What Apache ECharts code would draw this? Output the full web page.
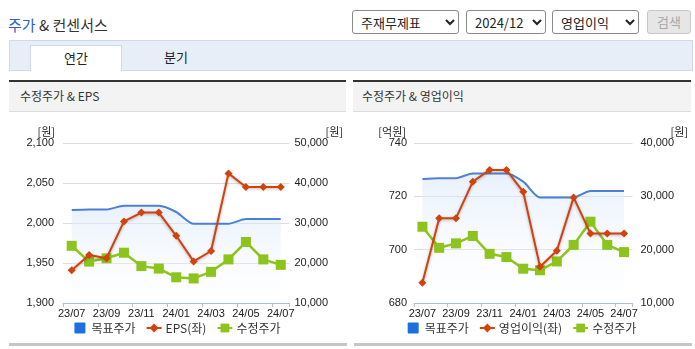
<!DOCTYPE html>
<html><head><meta charset="utf-8">
<script src="https://cdn.jsdelivr.net/npm/echarts@6/dist/echarts.min.js"></script>
<style>
body{margin:0;width:695px;height:349px;position:relative;overflow:hidden;background:#fff;font-family:'Noto Sans CJK KR',sans-serif;color:#333}
.abs{position:absolute}
.sel{position:absolute;top:10px;height:24px;font:13px 'Noto Sans CJK KR';color:#222;border:1px solid #8a8a8a;border-radius:3px;background:#fff;box-sizing:border-box;padding:0 4px}
.btn{position:absolute;top:10px;left:647px;width:44px;height:24px;box-sizing:border-box;border:1px solid #c8c8c8;border-radius:3px;background:#e6e6e6;color:#a8a8a8;font:13px 'Noto Sans CJK KR';text-align:center;line-height:22px}
.panelTop{position:absolute;top:80px;height:2px;background:#333}
.panelHead{position:absolute;top:82px;height:29px;background:#f3f3f3;border-bottom:1px solid #dcdcdc;font:12px 'Noto Sans CJK KR';color:#333;line-height:28px;box-sizing:content-box}
.panelBot{position:absolute;top:343px;height:3px;background:#c6c6c6}
</style></head>
<body>
<div class="abs" style="left:8px;top:14px;font-size:15px;line-height:22px;color:#333"><span style="color:#2b5fd0">주가</span> &amp; 컨센서스</div>
<select class="sel" style="left:352px;width:107px"><option>주재무제표</option></select>
<select class="sel" style="left:466px;width:80px"><option>2024/12</option></select>
<select class="sel" style="left:552px;width:87px"><option>영업이익</option></select>
<div class="btn">검색</div>
<div class="abs" style="left:9px;top:40px;width:682px;height:29px;background:#e8eef8;border:1px solid #cfd9e8"></div>
<div class="abs" style="left:30px;top:45px;width:90px;height:25px;background:#fff;border:1px solid #cfd9e8;border-bottom:none;text-align:center;font-size:13px;line-height:24px;color:#222">연간</div>
<div class="abs" style="left:156px;top:45px;width:40px;height:25px;text-align:center;font-size:13px;line-height:24px;color:#222">분기</div>

<div class="panelTop" style="left:9px;width:337px"></div>
<div class="panelHead" style="left:9px;width:326px;padding-left:11px">수정주가 &amp; EPS</div>
<div class="panelTop" style="left:353px;width:338px"></div>
<div class="panelHead" style="left:353px;width:329px;padding-left:9px">수정주가 &amp; 영업이익</div>
<div id="c1" class="abs" style="left:9px;top:112px;width:337px;height:230px"></div>
<div id="c2" class="abs" style="left:353px;top:112px;width:338px;height:230px"></div>
<div class="panelBot" style="left:9px;width:338px"></div>
<div class="panelBot" style="left:354px;width:338px"></div>

<script>
const categories = ['23/07','23/08','23/09','23/10','23/11','23/12','24/01','24/02','24/03','24/04','24/05','24/06','24/07'];
const targetPrice = [33250,33400,33400,34300,34300,34300,32750,29800,29800,29800,31000,31000,31000];
const adjPrice = [24300,20350,21180,22570,19220,18610,16430,16140,17790,20900,25250,20900,19540];
const eps = [1941,1960,1956,2002,2013,2013,1984,1952,1965,2062,2045,2045,2045];
const opProfit = [687.6,711.8,711.8,725.5,729.9,729.9,721.7,693.6,699.6,719.6,706.1,706.1,706.1];

const leftAxisL = {min:1900,max:2100,interval:50,name:'[원]'};
const rightAxisL = {min:10000,max:50000,interval:10000,name:'[원]'};
const leftAxisR = {min:680,max:740,interval:20,name:'[억원]'};
const rightAxisR = {min:10000,max:40000,interval:10000,name:'[원]'};

const labelFont = "'Liberation Sans Narrow','Liberation Sans',sans-serif";
const BLUE='#4b80d8', RED='#d2420c', GREEN='#8cc31c';

function build(el, grid, lAx, rAx, redName, redData, lMargin, rMargin, rNamePad){
  const chart = echarts.init(document.getElementById(el), null, {renderer:'canvas'});
  const fmt = v => v.toLocaleString('en-US');
  chart.setOption({
    animation:false,
    grid:grid,
    legend:{
      top:205,left:'center',itemWidth:15,itemHeight:11,itemGap:10,
      textStyle:{fontFamily:'Noto Sans CJK KR',fontSize:12,color:'#333',padding:[0,0,0,-1]},
      data:[
        {name:'목표주가',icon:'path://M1,0h8a1,1 0 0 1 1,1v8a1,1 0 0 1 -1,1h-8a1,1 0 0 1 -1,-1v-8a1,1 0 0 1 1,-1z',itemStyle:{color:'#1e6fe0'}},
        {name:redName},
        {name:'수정주가'}
      ]
    },
    xAxis:{
      type:'category',data:categories,boundaryGap:true,
      axisLine:{lineStyle:{color:'#aebfd8'}},
      axisTick:{show:true,length:4,lineStyle:{color:'#aebfd8'}},
      axisLabel:{interval:1,margin:5,fontSize:11,color:'#222',fontFamily:labelFont}
    },
    yAxis:[
      {type:'value',min:lAx.min,max:lAx.max,interval:lAx.interval,name:lAx.name,nameGap:6,
       nameTextStyle:{align:'right',padding:[0,8,0,0],fontSize:11,color:'#222',fontFamily:'Noto Sans CJK KR'},
       axisLine:{show:false},axisTick:{show:false},
       splitLine:{lineStyle:{color:'#dcdcdc'}},
       axisLabel:{margin:lMargin,fontSize:11,color:'#222',fontFamily:labelFont,formatter:fmt}},
      {type:'value',min:rAx.min,max:rAx.max,interval:rAx.interval,name:rAx.name,nameGap:6,
       nameTextStyle:{align:'left',padding:[0,0,0,rNamePad],fontSize:11,color:'#222',fontFamily:'Noto Sans CJK KR'},
       axisLine:{show:false},axisTick:{show:false},splitLine:{show:false},
       axisLabel:{margin:rMargin,fontSize:11,color:'#222',fontFamily:labelFont,formatter:fmt}}
    ],
    series:[
      {name:'목표주가',type:'line',yAxisIndex:1,data:targetPrice,smooth:0.25,symbol:'none',
       lineStyle:{color:BLUE,width:2},itemStyle:{color:'#1e6fe0'},
       areaStyle:{color:new echarts.graphic.LinearGradient(0,0,0,1,[{offset:0,color:'rgba(214,230,250,0.8)'},{offset:1,color:'rgba(255,255,255,0.3)'}])},z:1},
      {name:'수정주가',type:'line',yAxisIndex:1,data:adjPrice,symbol:'rect',symbolSize:10,
       lineStyle:{color:GREEN,width:2.5},itemStyle:{color:GREEN},z:2},
      {name:redName,type:'line',yAxisIndex:0,data:redData,symbol:'diamond',symbolSize:8,
       lineStyle:{color:RED,width:2,shadowColor:'rgba(0,0,0,0.3)',shadowBlur:3,shadowOffsetY:1},
       itemStyle:{color:RED},z:3}
    ]
  });
}
build('c1',{left:54,right:54,top:31,bottom:39},leftAxisL,rightAxisL,'EPS(좌)',eps,9,5,36);
build('c2',{left:61,right:56,top:31,bottom:39},leftAxisR,rightAxisR,'영업이익(좌)',opProfit,7,8,38);
</script>
</body></html>
